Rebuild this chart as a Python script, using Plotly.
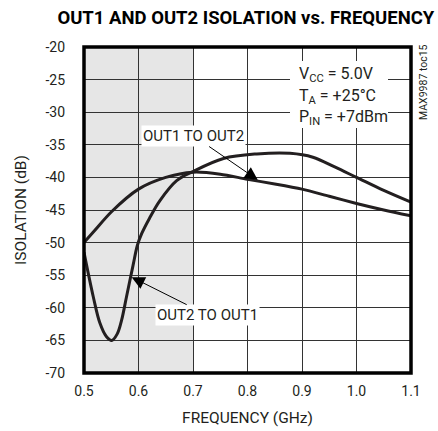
import plotly.graph_objects as go

# OUT1 TO OUT2 isolation (dB) vs frequency (GHz)
freq_12 = [0.5, 0.52, 0.55, 0.6, 0.65, 0.7, 0.75, 0.8, 0.85, 0.9, 0.95, 1.0, 1.05, 1.1]
iso_12 = [-50.0, -48.1, -45.3, -41.8, -40.0, -39.2, -39.5, -40.3, -41.0, -41.8, -42.9, -44.0, -45.0, -45.9]

# OUT2 TO OUT1 isolation (dB) vs frequency (GHz)
freq_21 = [0.5, 0.517, 0.529, 0.541, 0.551, 0.561, 0.569, 0.578, 0.59, 0.598, 0.606,
           0.62, 0.639, 0.67, 0.7, 0.756, 0.817, 0.878, 0.92, 0.96, 1.0, 1.05, 1.1]
iso_21 = [-51.5, -58.3, -62.3, -64.4, -65.0, -64.0, -61.9, -58.3, -53.5, -50.4, -48.6,
          -46.3, -43.6, -40.5, -39.1, -37.1, -36.4, -36.3, -36.9, -38.4, -40.0, -42.0, -43.8]

x_ticks = [0.5, 0.6, 0.7, 0.8, 0.9, 1.0, 1.1]
x_tick_text = ["0.5", "0.6", "0.7", "0.8", "0.9", "1.0", "1.1"]
y_ticks = [-70, -65, -60, -55, -50, -45, -40, -35, -30, -25, -20]
y_tick_text = ["-70", "-65", "-60", "-55", "-50", "-45", "-40", "-35", "-30", "-25", "-20"]

cond_lines = ['V<sub>CC</sub> = 5.0V', 'T<sub>A</sub> = +25°C', 'P<sub>IN</sub> = +7dBm']

FONT = "Roboto"
INK = '#231f20'

# plot area in pixels
L, R, T, B = 84, 27, 47, 58
W, H = 438, 431


def px(x, y):
    # pixel position -> paper coords
    return (x - L) / (W - L - R), 1 - (y - T) / (H - T - B)


fig = go.Figure()

fig.add_trace(go.Scatter(
    x=freq_12, y=iso_12, mode='lines', name='OUT1 TO OUT2',
    line=dict(color=INK, width=3, shape='spline', smoothing=0.8)
))
fig.add_trace(go.Scatter(
    x=freq_21, y=iso_21, mode='lines', name='OUT2 TO OUT1',
    line=dict(color=INK, width=3, shape='spline', smoothing=1.0)
))

# shaded band, white box behind conditions, frame
fig.add_shape(type='rect', xref='x', yref='y', x0=0.5, x1=0.7, y0=-70, y1=-20,
              fillcolor='#e6e6e6', line=dict(width=0), layer='below')
bx0, by0 = px(290, 128)
bx1, by1 = px(388, 61)
fig.add_shape(type='rect', xref='paper', yref='paper', x0=bx0, x1=bx1, y0=by0, y1=by1,
              fillcolor='white', line=dict(width=0), layer='above')
fig.add_shape(type='rect', xref='paper', yref='paper', x0=0, x1=1, y0=0, y1=1,
              line=dict(color='#000', width=3.5))

fig.add_annotation(x=0.819, y=-40.4, text='OUT1 TO OUT2', showarrow=True,
                   ax=-64, ay=-44, arrowhead=2, arrowsize=2.6, arrowwidth=1,
                   arrowcolor='#000', bgcolor='white', borderpad=1,
                   font=dict(family=FONT, size=15, color=INK))
fig.add_annotation(x=0.5875, y=-55.3, text='OUT2 TO OUT1', showarrow=True,
                   ax=76, ay=38, arrowhead=2, arrowsize=2.6, arrowwidth=1,
                   arrowcolor='#000', bgcolor='white', borderpad=1,
                   font=dict(family=FONT, size=15, color=INK))

for line, ypx in zip(cond_lines, [75, 96, 117]):
    cx, cy = px(297, ypx)
    fig.add_annotation(x=cx, y=cy, xref='paper', yref='paper', showarrow=False,
                       text=line, xanchor='left', yanchor='middle',
                       font=dict(family=FONT, size=16, color=INK))

mx, my = px(423, 82)
fig.add_annotation(x=mx, y=my, xref='paper', yref='paper', text='MAX9987 toc15',
                   textangle=-90, showarrow=False, xanchor='center', yanchor='middle',
                   font=dict(family=FONT, size=10.5, color=INK))

fig.update_layout(
    width=W, height=H,
    margin=dict(l=L, r=R, t=T, b=B),
    paper_bgcolor='white', plot_bgcolor='white',
    showlegend=False,
    title=dict(text='<b>OUT1 AND OUT2 ISOLATION vs. FREQUENCY</b>', xref='paper', x=0.495,
               xanchor='center', y=0.96, yanchor='middle',
               font=dict(family=FONT, size=18.5, color='#000')),
    font=dict(family=FONT, size=14, color=INK),
)

fig.update_xaxes(range=[0.5, 1.1], tickvals=x_ticks, ticktext=x_tick_text,
                 showgrid=True, gridcolor='#333', gridwidth=1, zeroline=False,
                 ticks='', ticklabelstandoff=8, automargin=False,
                 title=dict(text='FREQUENCY (GHz)', standoff=14,
                            font=dict(family=FONT, size=15.5)))
fig.update_yaxes(range=[-70, -20], tickvals=y_ticks, ticktext=y_tick_text,
                 showgrid=True, gridcolor='#333', gridwidth=1, zeroline=False,
                 ticks='', ticklabelstandoff=18, automargin=False,
                 title=dict(text='ISOLATION (dB)', standoff=14,
                            font=dict(family=FONT, size=15.5)))

fig.write_html("out.html", config={'displayModeBar': False},
               post_script="document.body.style.margin='0';")
